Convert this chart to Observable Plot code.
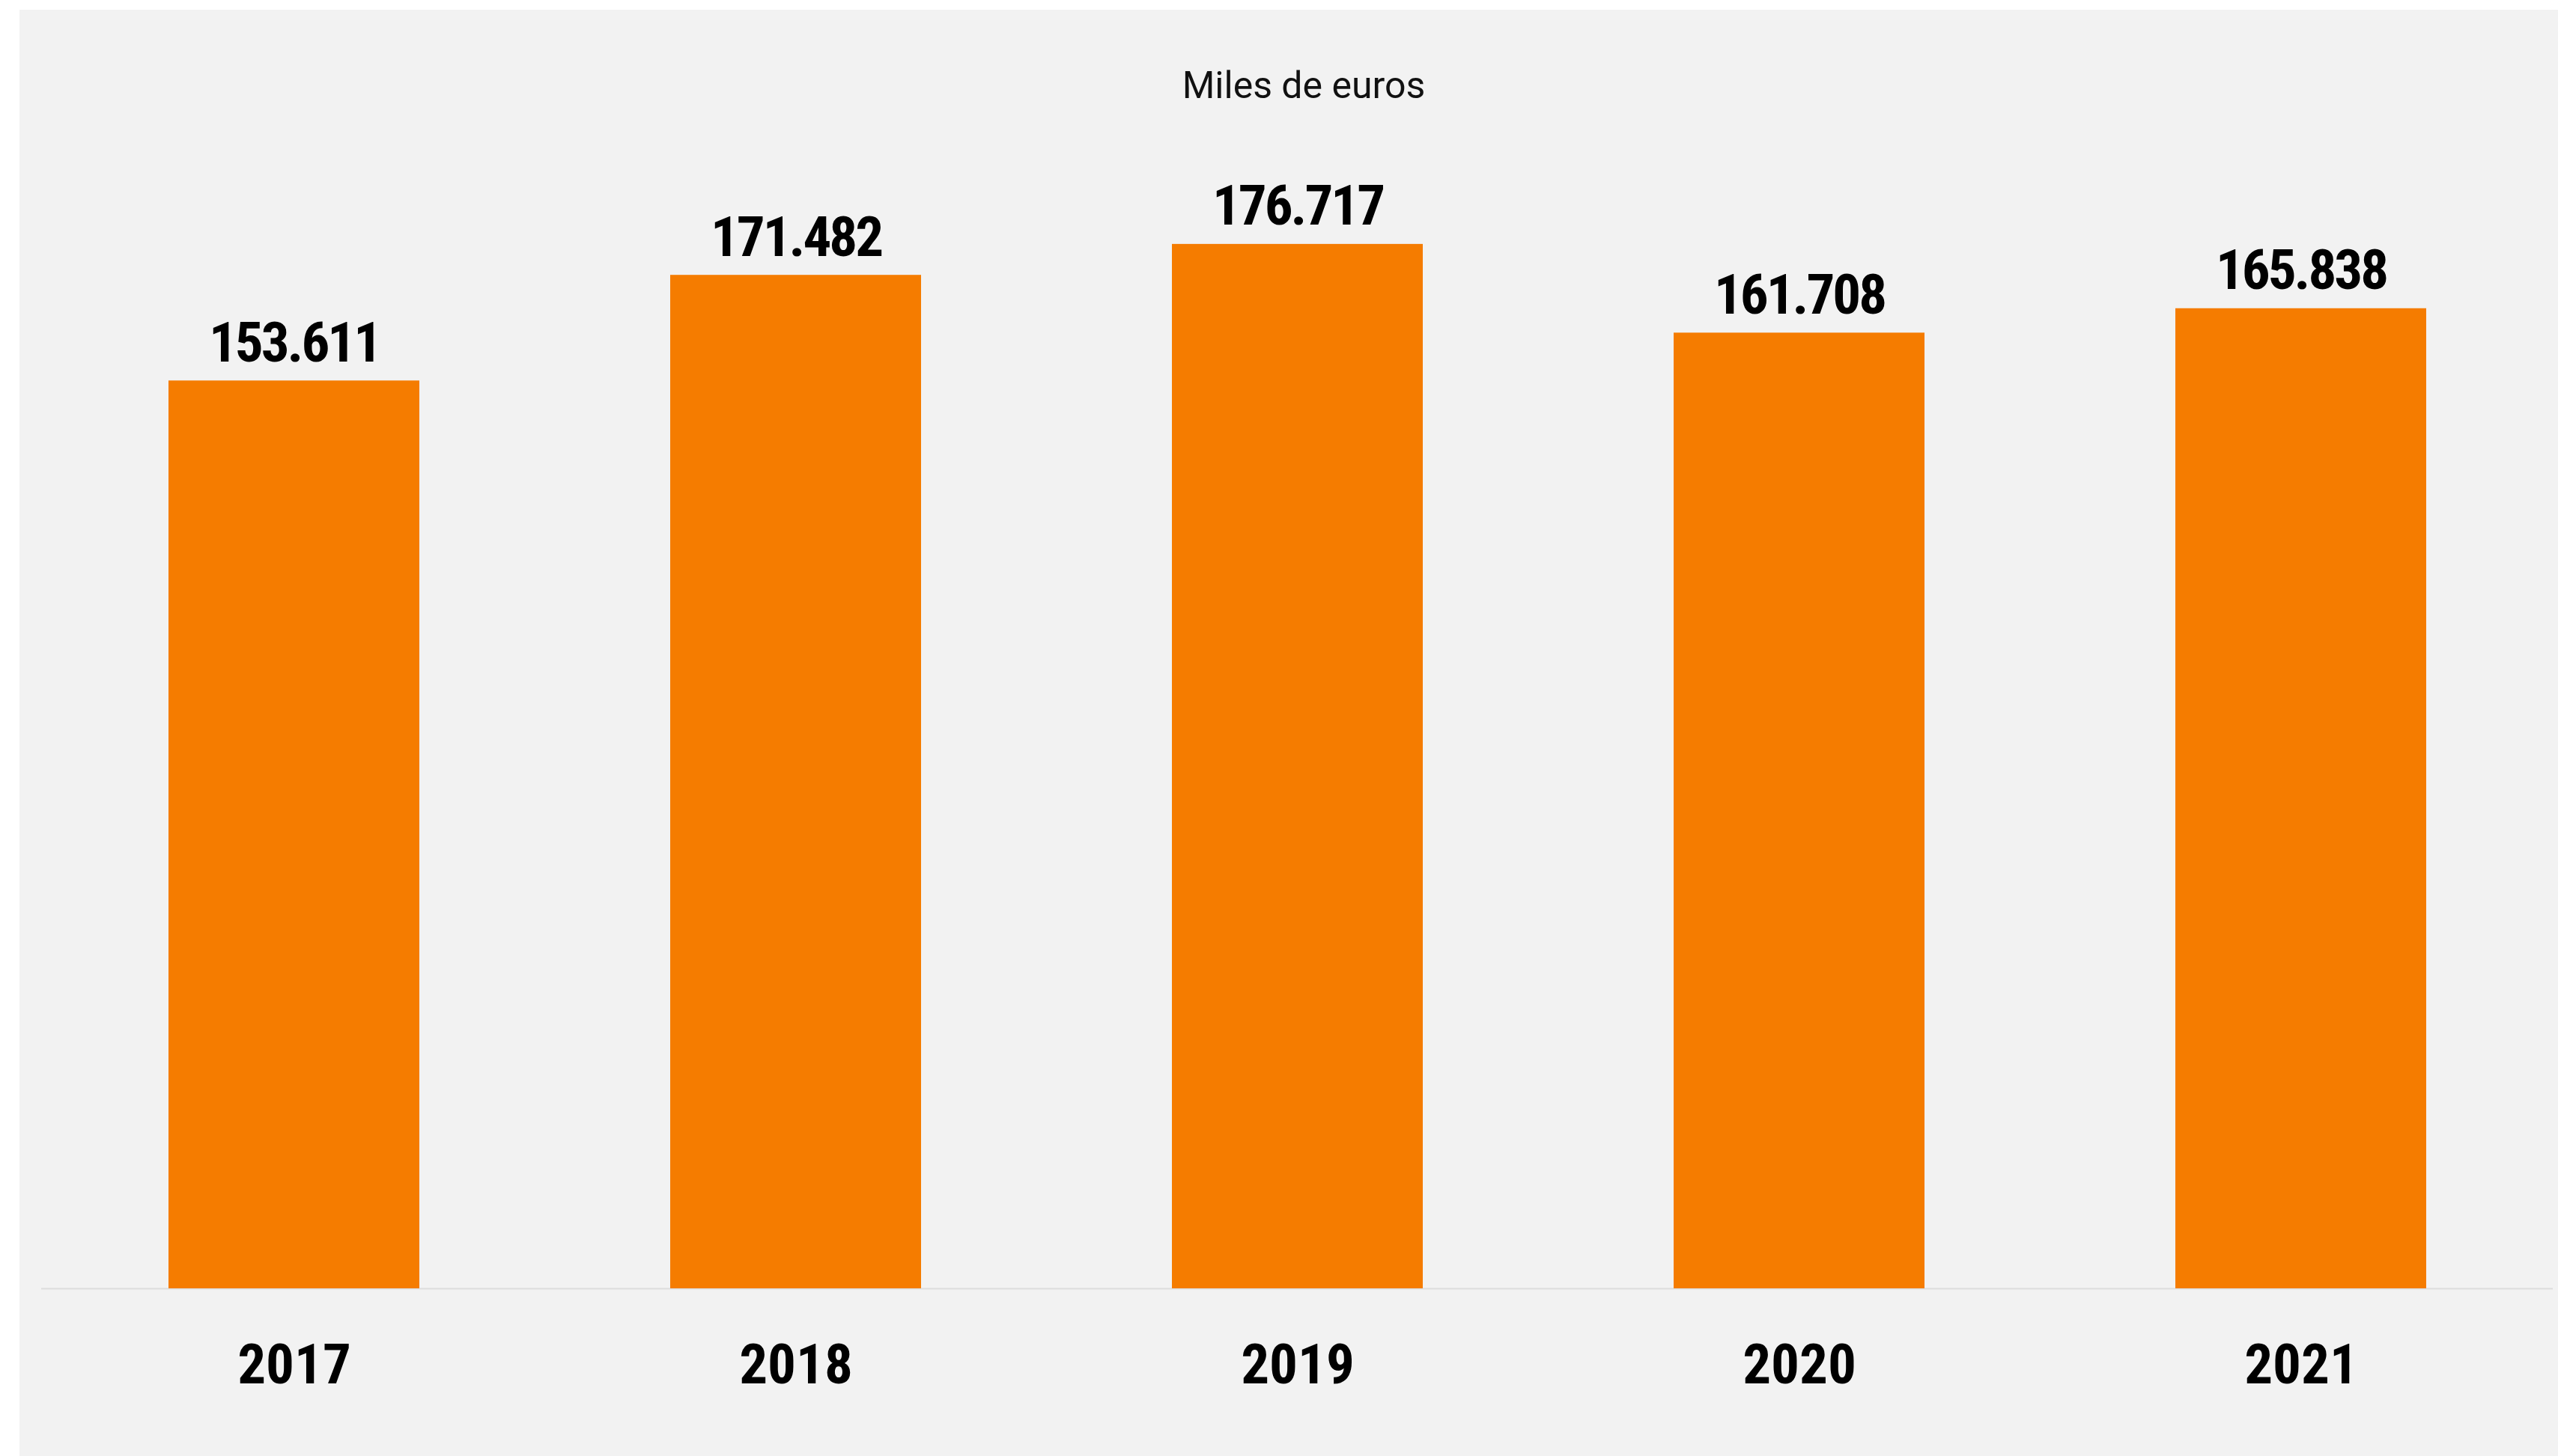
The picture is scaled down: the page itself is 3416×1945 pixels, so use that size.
<!DOCTYPE html>
<html>
<head>
<meta charset="utf-8">
<script src="https://cdn.jsdelivr.net/npm/d3@7"></script>
<script src="https://cdn.jsdelivr.net/npm/@observablehq/plot@0.6"></script>
<style>
  html, body { margin: 0; padding: 0; background: #ffffff; }
  #panel { position: absolute; left: 26px; top: 13px; width: 3390px; height: 1932px; background: #f2f2f2; overflow: hidden; }
  #subtitle { position: absolute; left: 40px; right: 0; top: 76px; text-align: center; font-family: Roboto, "Noto Sans", sans-serif; font-size: 50px; line-height: 50px; color: #111; }
  #chart { position: absolute; left: 0; top: 150px; width: 3390px; }
  #chart g[aria-label="text"] { font-family: Roboto, sans-serif; font-stretch: 75%; letter-spacing: -3px; }
  #chart g[aria-label="x-axis tick label"] { font-family: Roboto, sans-serif; font-stretch: 85%; }
</style>
</head>
<body>
<div id="panel">
  <div id="subtitle">Miles de euros</div>
  <div id="chart"></div>
</div>
<script>
const years = ["2017", "2018", "2019", "2020", "2021"];
const values = [153611, 171482, 176717, 161708, 165838];

const data = years.map((y, i) => ({year: y, value: values[i]}));
const fmt = d3.formatLocale({decimal: ",", thousands: ".", grouping: [3], currency: ["", " €"]}).format(",d");

const chart = Plot.plot({
  width: 3390,
  height: 1782,
  marginLeft: 29,
  marginRight: 7,
  marginTop: 58,
  marginBottom: 224,
  style: {background: "transparent", color: "#000", fontFamily: "Roboto, sans-serif"},
  x: {domain: years, paddingInner: 0.5, paddingOuter: 0.25, label: null},
  y: {domain: [0, 190000], axis: null},
  marks: [
    Plot.ruleY([0], {stroke: "#dcdcdc", strokeWidth: 2}),
    Plot.barY(data, {x: "year", y: "value", fill: "#f57c00"}),
    Plot.text(data, {x: "year", y: "value", text: d => fmt(d.value), dy: -26, lineAnchor: "bottom", fontSize: 75, fontWeight: "bold", fill: "#000"}),
    Plot.axisX({tickSize: 0, tickPadding: 73, fontSize: 75, fontWeight: "bold", label: null})
  ]
});
document.getElementById("chart").appendChild(chart);
</script>
</body>
</html>
